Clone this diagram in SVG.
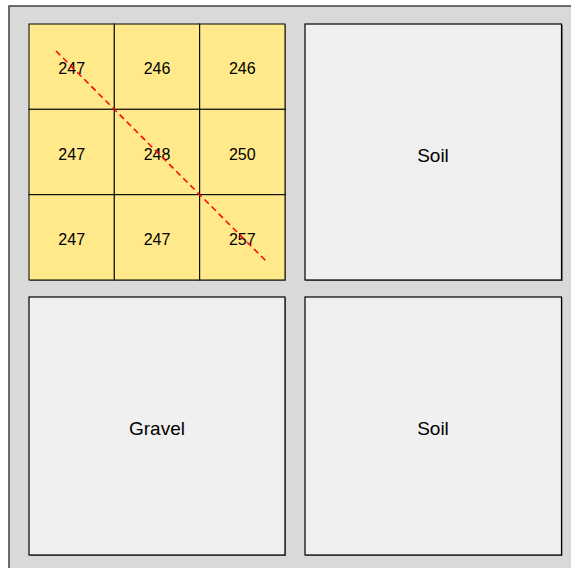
<svg xmlns="http://www.w3.org/2000/svg" width="571" height="568" viewBox="0 0 571 568">
<style>
.frame{fill:#d9d9d9;stroke:#404040;stroke-width:1.5}
.cell{fill:#ffe98a;stroke:#000;stroke-width:1}
.box{fill:#f0f0f0;stroke:#000;stroke-width:1.2}
.sh{fill:#7f7f7f}
text{font-family:"Liberation Sans",Arial,sans-serif;fill:#000;text-anchor:middle;dominant-baseline:central}
.n{font-size:16px}
.l{font-size:19px}
</style>
<rect class="frame" x="9" y="6" width="580" height="580"/>
<g id="grid">
<rect class="sh" x="30" y="25" width="256" height="256"/>
<rect class="cell" x="29" y="24" width="85.3" height="85.3"/>
<rect class="cell" x="114.3" y="24" width="85.3" height="85.3"/>
<rect class="cell" x="199.7" y="24" width="85.3" height="85.3"/>
<rect class="cell" x="29" y="109.3" width="85.3" height="85.3"/>
<rect class="cell" x="114.3" y="109.3" width="85.3" height="85.3"/>
<rect class="cell" x="199.7" y="109.3" width="85.3" height="85.3"/>
<rect class="cell" x="29" y="194.7" width="85.3" height="85.3"/>
<rect class="cell" x="114.3" y="194.7" width="85.3" height="85.3"/>
<rect class="cell" x="199.7" y="194.7" width="85.3" height="85.3"/>
<text class="n" x="71.7" y="68">247</text>
<text class="n" x="157" y="68">246</text>
<text class="n" x="242.3" y="68">246</text>
<text class="n" x="71.7" y="154">247</text>
<text class="n" x="157" y="154">248</text>
<text class="n" x="242.3" y="154">250</text>
<text class="n" x="71.7" y="239">247</text>
<text class="n" x="157" y="239">247</text>
<text class="n" x="242.3" y="239">257</text>
</g>
<g id="soil-top">
<rect class="sh" x="306" y="25" width="257" height="256"/>
<rect class="box" x="305" y="24" width="256.5" height="256"/>
<text class="l" x="433" y="155">Soil</text>
</g>
<g id="gravel">
<rect class="sh" x="30" y="298" width="256" height="258"/>
<rect class="box" x="29" y="297" width="256" height="258"/>
<text class="l" x="157" y="428">Gravel</text>
</g>
<g id="soil-bottom">
<rect class="sh" x="306" y="298" width="256.5" height="258"/>
<rect class="box" x="305" y="297" width="256.5" height="258"/>
<text class="l" x="433" y="428">Soil</text>
</g>
<g id="connectors">
<line x1="56" y1="51" x2="268" y2="263" stroke="#ff0000" stroke-width="1.5" stroke-dasharray="6,4"/>
</g>
</svg>
